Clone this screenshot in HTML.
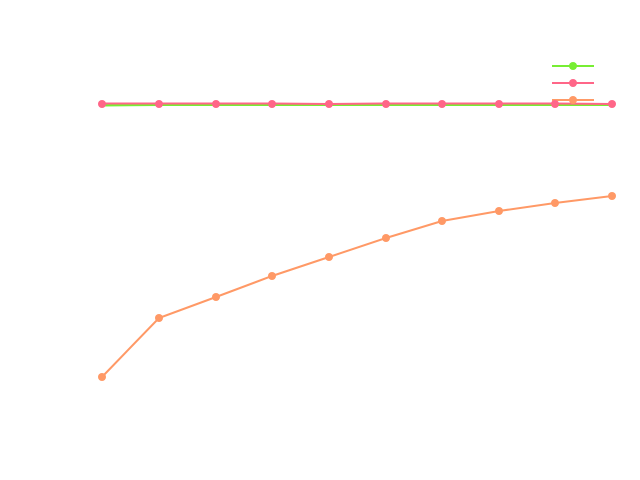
<!DOCTYPE html>
<html><head><style>html,body{margin:0;padding:0;background:#fff;width:640px;height:480px;overflow:hidden}</style></head>
<body>
<svg width="640" height="480" xmlns="http://www.w3.org/2000/svg">
<rect width="640" height="480" fill="#fff"/>
<g fill="none" stroke-width="2">
<polyline stroke="#77ee33" points="102,105.5 159,105 216,105 272,105 329,105 386,105 442,105 499,105 555,105 612,105"/>
<polyline stroke="#ff6688" points="102,103.5 159,103.5 216,103.5 272,103.5 329,104 386,103.5 442,103.5 499,103.5 555,103.5 612,104"/>
<polyline stroke="#ff9966" points="102,377 159,318 216,297 272,276 329,257 386,238 442,221 499,211 555,203 612,196"/>
<line x1="552" y1="66" x2="594" y2="66" stroke="#77ee33"/>
<line x1="552" y1="83" x2="594" y2="83" stroke="#ff6688"/>
<line x1="552" y1="100" x2="594" y2="100" stroke="#ff9966"/>
</g>
<g fill="#ff6688">
<circle cx="102" cy="104" r="4"/><circle cx="159" cy="104" r="4"/><circle cx="216" cy="104" r="4"/><circle cx="272" cy="104" r="4"/><circle cx="329" cy="104" r="4"/><circle cx="386" cy="104" r="4"/><circle cx="442" cy="104" r="4"/><circle cx="499" cy="104" r="4"/><circle cx="555" cy="104" r="4"/><circle cx="612" cy="104" r="4"/>
<circle cx="573" cy="83" r="4"/>
</g>
<g fill="#ff9966">
<circle cx="102" cy="377" r="4"/><circle cx="159" cy="318" r="4"/><circle cx="216" cy="297" r="4"/><circle cx="272" cy="276" r="4"/><circle cx="329" cy="257" r="4"/><circle cx="386" cy="238" r="4"/><circle cx="442" cy="221" r="4"/><circle cx="499" cy="211" r="4"/><circle cx="555" cy="203" r="4"/><circle cx="612" cy="196" r="4"/>
<circle cx="573" cy="100" r="4"/>
</g>
<circle cx="573" cy="66" r="4" fill="#77ee33"/>
</svg>
</body></html>
